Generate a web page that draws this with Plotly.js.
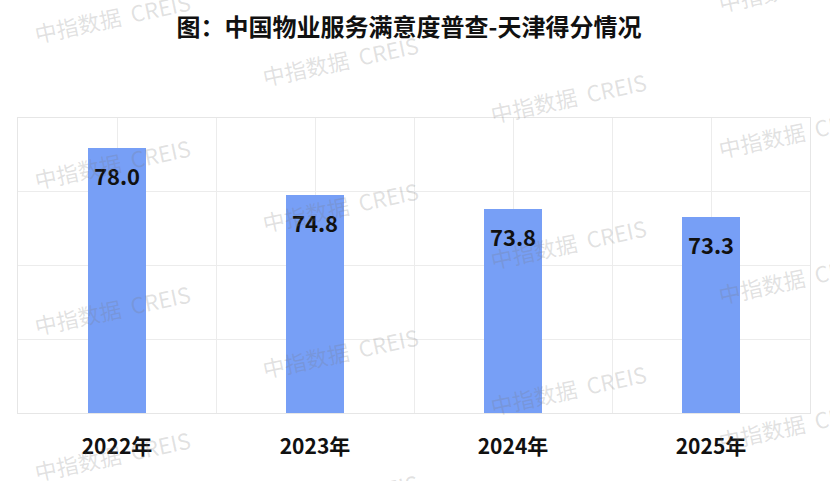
<!DOCTYPE html>
<html>
<head>
<meta charset="utf-8">
<script src="https://cdn.plot.ly/plotly-3.0.1.min.js"></script>
<style>
  html, body { margin: 0; padding: 0; background: #ffffff; }
  #chart { width: 830px; height: 481px; }
</style>
</head>
<body>
<div id="chart"></div>
<script>
// ---- data ----
const chartTitle = '图：中国物业服务满意度普查-天津得分情况';
const categories = ['2022年', '2023年', '2024年', '2025年'];
const scores = [78.0, 74.8, 73.8, 73.3];
const yTicks = [60, 65, 70, 75, 80];
const watermarkText = '中指数据  CREIS';

// ---- layout constants ----
const W = 830, H = 481;
const M = { l: 18, r: 20, t: 118, b: 68 };
const plotW = W - M.l - M.r, plotH = H - M.t - M.b;
const FONT = '"Noto Sans CJK SC", "Noto Sans", sans-serif';

const idx = categories.map((c, i) => i);

// tick positions at category centres and band boundaries
const xTickVals = [];
const xTickText = [];
for (let i = 0; i < categories.length; i++) {
  xTickVals.push(i - 0.5, i);
  xTickText.push('', categories[i]);
}
xTickVals.push(categories.length - 0.5);
xTickText.push('');

const trace = {
  type: 'bar',
  x: idx,
  y: scores,
  width: 0.288,
  marker: { color: '#779ff6', line: { width: 0 } },
  hoverinfo: 'none',
  showlegend: false
};

const annotations = scores.map((v, i) => ({
  x: i, y: v, xref: 'x', yref: 'y',
  text: v.toFixed(1),
  showarrow: false,
  yanchor: 'middle',
  yshift: -27,
  font: { family: FONT, size: 22, color: '#111111', weight: 'bold' }
}));

// watermark pattern (decoration)
const wmColX = [112, 340, 568, 796];
const wmColY = [17, 60, 97, 132];
const wmStep = 146;
wmColX.forEach((cx, k) => {
  for (let j = -1; j <= 3; j++) {
    const cy = wmColY[k] + wmStep * j;
    if (cy < -40 || cy > H + 40) continue;
    annotations.push({
      xref: 'paper', yref: 'paper',
      x: (cx - M.l) / plotW,
      y: (H - M.b - cy) / plotH,
      xanchor: 'center', yanchor: 'middle',
      text: watermarkText,
      showarrow: false,
      textangle: -12,
      font: { family: FONT, size: 22, color: 'rgba(120,120,120,0.22)' }
    });
  }
});

const layout = {
  width: W, height: H,
  margin: M,
  paper_bgcolor: '#ffffff',
  plot_bgcolor: '#ffffff',
  title: {
    text: chartTitle,
    x: 409 / W, xref: 'container', xanchor: 'center',
    y: 1 - 28 / H, yref: 'container', yanchor: 'middle',
    font: { family: FONT, size: 24, color: '#111111', weight: 'bold' }
  },
  xaxis: {
    type: 'linear',
    range: [-0.5, categories.length - 0.5],
    tickmode: 'array',
    tickvals: xTickVals,
    ticktext: xTickText,
    ticks: '',
    showgrid: true,
    gridcolor: '#ececec',
    gridwidth: 1,
    zeroline: false,
    showline: true,
    mirror: true,
    linecolor: '#e6e6e6',
    linewidth: 1,
    ticklabelstandoff: 15,
    tickfont: { family: FONT, size: 21, color: '#111111', weight: 'bold' },
    fixedrange: true
  },
  yaxis: {
    range: [yTicks[0], yTicks[yTicks.length - 1]],
    tickmode: 'array',
    tickvals: yTicks,
    showticklabels: false,
    ticks: '',
    showgrid: true,
    gridcolor: '#ececec',
    gridwidth: 1,
    zeroline: false,
    showline: true,
    mirror: true,
    linecolor: '#e6e6e6',
    linewidth: 1,
    fixedrange: true
  },
  bargap: 0,
  annotations: annotations
};

Plotly.newPlot('chart', [trace], layout, { displayModeBar: false, staticPlot: true });
</script>
</body>
</html>
